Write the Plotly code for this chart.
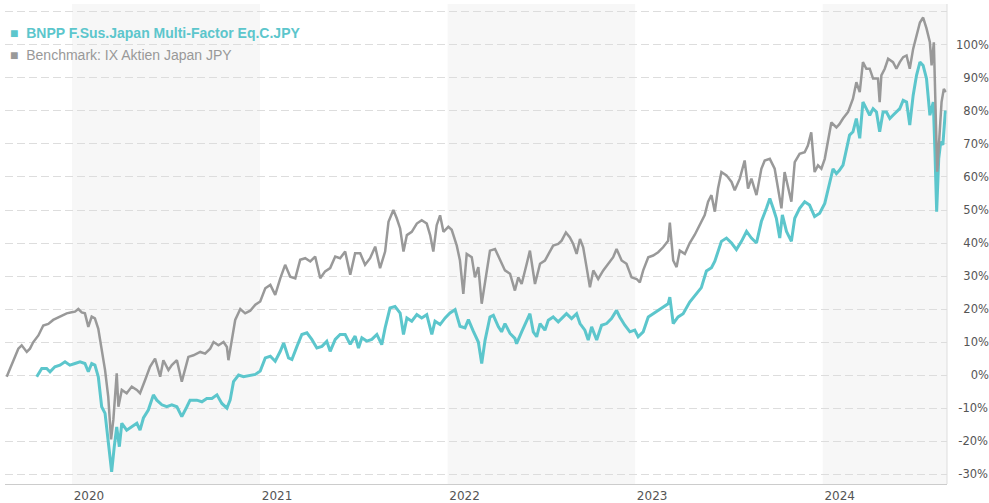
import datetime as dt
import plotly.graph_objects as go

# ---- data (decimal years, cumulative performance in %) ----
bench_t = [2019.652, 2019.688, 2019.714, 2019.732, 2019.759, 2019.776, 2019.794, 2019.821, 2019.847, 2019.874,
           2019.900, 2019.936, 2019.972, 2019.998, 2020.016, 2020.034, 2020.052, 2020.069, 2020.087, 2020.105,
           2020.122, 2020.140, 2020.158, 2020.176, 2020.193, 2020.208, 2020.220, 2020.238, 2020.247, 2020.265,
           2020.291, 2020.318, 2020.345, 2020.362, 2020.389, 2020.415, 2020.442, 2020.469, 2020.486, 2020.513,
           2020.531, 2020.558, 2020.584, 2020.602, 2020.619, 2020.646, 2020.682, 2020.708, 2020.735, 2020.753,
           2020.779, 2020.806, 2020.824, 2020.832, 2020.851, 2020.868, 2020.895, 2020.921, 2020.948, 2020.975,
           2021.001, 2021.028, 2021.055, 2021.081, 2021.108, 2021.134, 2021.161, 2021.188, 2021.214, 2021.241,
           2021.268, 2021.294, 2021.321, 2021.347, 2021.374, 2021.401, 2021.427, 2021.454, 2021.481, 2021.507,
           2021.534, 2021.560, 2021.587, 2021.614, 2021.640, 2021.667, 2021.685, 2021.711, 2021.729, 2021.747,
           2021.765, 2021.783, 2021.809, 2021.836, 2021.862, 2021.889, 2021.907, 2021.924, 2021.942, 2021.960,
           2021.978, 2022.004, 2022.022, 2022.049, 2022.066, 2022.084, 2022.102, 2022.129, 2022.146, 2022.164,
           2022.182, 2022.200, 2022.226, 2022.253, 2022.280, 2022.306, 2022.333, 2022.359, 2022.377, 2022.395,
           2022.422, 2022.439, 2022.466, 2022.493, 2022.519, 2022.546, 2022.563, 2022.590, 2022.608, 2022.631,
           2022.652, 2022.670, 2022.688, 2022.706, 2022.723, 2022.741, 2022.759, 2022.777, 2022.803, 2022.830,
           2022.856, 2022.883, 2022.901, 2022.928, 2022.954, 2022.981, 2023.008, 2023.025, 2023.043, 2023.070,
           2023.096, 2023.123, 2023.149, 2023.176, 2023.185, 2023.203, 2023.221, 2023.238, 2023.265, 2023.291,
           2023.318, 2023.345, 2023.371, 2023.389, 2023.407, 2023.425, 2023.442, 2023.460, 2023.487, 2023.514,
           2023.531, 2023.558, 2023.584, 2023.602, 2023.620, 2023.647, 2023.673, 2023.691, 2023.718, 2023.744,
           2023.762, 2023.780, 2023.797, 2023.815, 2023.833, 2023.851, 2023.877, 2023.904, 2023.921, 2023.939,
           2023.957, 2023.975, 2023.993, 2024.011, 2024.028, 2024.046, 2024.073, 2024.089, 2024.108, 2024.135,
           2024.161, 2024.179, 2024.197, 2024.214, 2024.232, 2024.250, 2024.268, 2024.294, 2024.303, 2024.312,
           2024.330, 2024.348, 2024.374, 2024.392, 2024.410, 2024.428, 2024.446, 2024.463, 2024.481, 2024.499,
           2024.517, 2024.534, 2024.552, 2024.570, 2024.579, 2024.591, 2024.602, 2024.609, 2024.619, 2024.632,
           2024.644, 2024.655]
bench_v = [-0.5, 4.5, 8, 9, 7, 8, 10, 12, 15, 15.5,
           16.7, 17.7, 18.7, 19, 19.2, 20, 19, 18.7, 14.6, 17.7,
           17.2, 14, 7.6, 1.5, -6.6, -19.5, -13.6, 0.5, -9.6, -4.5,
           -5.5, -3.5, -4.5, -5.5, -1.5, 2.5, 5, -0.5, 4.5, 1.5,
           3, 4.5, -2, 1.5, 5.5, 6, 7, 6.5, 8, 10,
           9, 10, 8.5, 4.5, 11.6, 16.7, 20, 18.7, 19.5, 21.3,
           22.3, 26.3, 27.3, 24.3, 29.3, 33.4, 29.8, 29.3, 34.9, 35.4,
           34.4, 35.9, 29.3, 31.4, 32.4, 35.9, 35.4, 37.4, 30.4, 36.9,
           36.9, 33.4, 35.4, 38.9, 32.4, 37.4, 46.4, 50, 47.5, 44.4,
           37.4, 42.4, 43.4, 45.9, 46.9, 45.9, 42.4, 37.4, 45.4, 48.4,
           43.4, 44.9, 44, 39.2, 34.7, 24.6, 36.7, 35.7, 29.6, 32.7,
           21.6, 28.6, 37.7, 38.2, 34.7, 31.7, 30.7, 25.6, 29.6, 27.6,
           33.7, 37.7, 27.6, 33.7, 34.7, 37.7, 39.2, 39.7, 40.7, 43.2,
           41.7, 39.7, 36.7, 41.2, 38.7, 32.7, 26.6, 31.7, 29.1, 31.7,
           33.7, 35.7, 38.2, 34.7, 33.7, 29.6, 29.1, 28.1, 31.7, 35.7,
           36.2, 37.2, 38.7, 40.7, 46.2, 34.7, 32.7, 37.7, 36.7, 40,
           42.5, 45.5, 48.5, 52.5, 54.5, 49.5, 56.5, 61.5, 60.5, 58.5,
           56, 59.5, 65, 56.5, 59.5, 54.5, 62.5, 65, 65.5, 62.5,
           56, 50.5, 61.5, 56.5, 52.5, 64.5, 67, 67.5, 69.5, 73.5,
           61.5, 63.5, 62.5, 65.5, 70.5, 76.5, 75, 76, 77.7, 79.7,
           83.7, 88.7, 85.7, 94.8, 92.8, 92.8, 89.8, 89.8, 82.7, 90.8,
           92.8, 95.8, 94.8, 92.8, 94.8, 96.3, 96.8, 92.8, 98.8, 102.8,
           106.8, 108.3, 105, 100.8, 93.8, 100.8, 72.7, 61.6, 70.7, 82.7,
           86.7, 85.7]

fund_t = [2019.812, 2019.839, 2019.865, 2019.883, 2019.909, 2019.936, 2019.963, 2019.989, 2020.016, 2020.043,
          2020.069, 2020.087, 2020.105, 2020.122, 2020.140, 2020.158, 2020.176, 2020.193, 2020.211, 2020.225,
          2020.238, 2020.252, 2020.265, 2020.291, 2020.318, 2020.345, 2020.362, 2020.380, 2020.406, 2020.433,
          2020.451, 2020.478, 2020.504, 2020.531, 2020.558, 2020.584, 2020.611, 2020.628, 2020.664, 2020.691,
          2020.717, 2020.744, 2020.771, 2020.797, 2020.824, 2020.841, 2020.859, 2020.886, 2020.912, 2020.948,
          2020.975, 2021.001, 2021.028, 2021.055, 2021.081, 2021.108, 2021.126, 2021.152, 2021.170, 2021.197,
          2021.223, 2021.250, 2021.276, 2021.303, 2021.330, 2021.356, 2021.374, 2021.401, 2021.427, 2021.454,
          2021.481, 2021.507, 2021.525, 2021.543, 2021.569, 2021.596, 2021.623, 2021.649, 2021.667, 2021.693,
          2021.720, 2021.747, 2021.765, 2021.783, 2021.809, 2021.836, 2021.862, 2021.889, 2021.916, 2021.933,
          2021.960, 2021.987, 2022.013, 2022.040, 2022.066, 2022.093, 2022.111, 2022.137, 2022.164, 2022.182,
          2022.200, 2022.226, 2022.244, 2022.271, 2022.288, 2022.306, 2022.333, 2022.359, 2022.368, 2022.395,
          2022.422, 2022.439, 2022.457, 2022.475, 2022.493, 2022.519, 2022.537, 2022.563, 2022.590, 2022.608,
          2022.634, 2022.661, 2022.688, 2022.706, 2022.732, 2022.750, 2022.768, 2022.795, 2022.821, 2022.848,
          2022.874, 2022.901, 2022.918, 2022.945, 2022.972, 2022.998, 2023.016, 2023.043, 2023.070, 2023.096,
          2023.123, 2023.149, 2023.176, 2023.185, 2023.203, 2023.229, 2023.256, 2023.291, 2023.327, 2023.353,
          2023.380, 2023.407, 2023.425, 2023.442, 2023.460, 2023.487, 2023.514, 2023.540, 2023.567, 2023.594,
          2023.620, 2023.647, 2023.673, 2023.700, 2023.718, 2023.736, 2023.753, 2023.771, 2023.785, 2023.807,
          2023.833, 2023.851, 2023.877, 2023.904, 2023.930, 2023.957, 2023.984, 2024.011, 2024.037, 2024.055,
          2024.073, 2024.089, 2024.108, 2024.126, 2024.143, 2024.161, 2024.179, 2024.197, 2024.214, 2024.232,
          2024.250, 2024.268, 2024.286, 2024.303, 2024.321, 2024.339, 2024.357, 2024.374, 2024.392, 2024.410,
          2024.428, 2024.446, 2024.463, 2024.481, 2024.499, 2024.517, 2024.534, 2024.552, 2024.570, 2024.588,
          2024.597, 2024.606, 2024.617, 2024.628, 2024.639, 2024.652, 2024.661]
fund_v = [-0.5, 2, 2, 1, 2.5, 3, 4, 3, 3.5, 4,
          3.5, 1, 3.5, 3, -0.5, -9.6, -11.6, -20.7, -29.3, -21.7,
          -15.7, -21.7, -14.6, -16.7, -15.7, -14.6, -16.7, -13, -10.6, -6,
          -7.6, -9, -9.6, -9, -9.6, -12.6, -9.6, -7.6, -7.6, -8.1,
          -7.1, -7.1, -6, -8.6, -10, -7.6, -2, 0, -0.5, 0,
          0.2, 1.2, 5.2, 5.7, 4.2, 7.2, 9.7, 5.2, 4.7, 8.7,
          12.3, 12.8, 10.8, 8.2, 8.7, 10.2, 7.2, 10.8, 12.3, 12.3,
          9.3, 11.8, 8.2, 11.3, 10.3, 10.8, 12.3, 9.2, 14.3, 20.3,
          20.8, 18.8, 12.3, 17.3, 16.3, 18.3, 17.3, 18.3, 12.3, 16.3,
          15.3, 17.3, 18.8, 19.8, 14.8, 14.3, 16.8, 13.3, 10, 3.5,
          10.6, 17.6, 18.1, 14.6, 13.1, 15.6, 12.6, 11.1, 9.5, 13.1,
          16.6, 18.6, 13.1, 11.6, 15.6, 13.6, 16.6, 17.6, 16.1, 17.1,
          18.6, 17.1, 18.6, 15.6, 13.6, 10.6, 14.6, 10.6, 15.1, 15.6,
          17.1, 19.6, 17.6, 15.1, 13.1, 13.6, 11.6, 13.1, 17.6, 18.6,
          19.6, 20.6, 21.6, 23.6, 15.6, 17.6, 18.6, 22.1, 24.5, 26.5,
          31.5, 32.5, 34.5, 37.5, 40.5, 41.5, 40, 38, 40.5, 43.5,
          41.5, 40, 46.5, 50.5, 53.5, 50.5, 47.5, 41.5, 48.5, 43.5,
          40.5, 47.5, 50.5, 52.5, 51.5, 48, 49, 52, 58.5, 62.5,
          61, 62, 63.6, 68.6, 72.7, 73.7, 77.7, 71.7, 82.7, 80.7,
          78.7, 80.7, 79.7, 73.7, 79.7, 79.7, 77.7, 78.7, 79.7, 80.7,
          83.2, 82.7, 75.7, 84.7, 90.8, 94.8, 93.8, 89.8, 78.7, 82.7,
          67.6, 49.5, 65.6, 70.7, 69.7, 79.7, 79.7]

years = [2020, 2021, 2022, 2023, 2024]
shaded_years = [2020, 2022, 2024]
y_ticks = [-30, -20, -10, 0, 10, 20, 30, 40, 50, 60, 70, 80, 90, 100, 110]
y_labels = ["-30%", "-20%", "-10%", "0%", "10%", "20%", "30%", "40%", "50%",
            "60%", "70%", "80%", "90%", "100%", ""]

fund_name = "BNPP F.Sus.Japan Multi-Factor Eq.C.JPY"
bench_name = "Benchmark: IX Aktien Japan JPY"

TEAL = "#5cc6cc"
GRAY = "#999999"


def to_date(d):
    y = int(d)
    start = dt.datetime(y, 1, 1)
    end = dt.datetime(y + 1, 1, 1)
    return start + (end - start) * (d - y)


def pad_label(s):
    # right-align labels on a right-hand axis using figure / thin spaces
    if not s:
        return s
    if s.startswith("-"):
        return "\u2009" + s
    digits = sum(c.isdigit() for c in s)
    return "\u2007" * max(0, 3 - digits) + s


def legend_label(name, color, bold):
    txt = f"<b>{name}</b>" if bold else name
    return (f"<span style='color:{color}'>\u25a0\u00a0\u00a0</span>"
            f"<span style='color:{color}'>{txt}</span>")


fund_x = [to_date(t) for t in fund_t]
bench_x = [to_date(t) for t in bench_t]
x_start = to_date(2019.643)
x_end = to_date(2024.661)

fig = go.Figure()
fig.add_trace(go.Scatter(x=fund_x, y=fund_v, mode="lines", line=dict(color=TEAL, width=3),
                         showlegend=False, name=fund_name))
fig.add_trace(go.Scatter(x=bench_x, y=bench_v, mode="lines", line=dict(color=GRAY, width=2.5),
                         showlegend=False, name=bench_name))
# legend entries (square swatch drawn as part of the label)
fig.add_trace(go.Scatter(x=[None], y=[None], mode="markers",
                         marker=dict(symbol="square", size=1, color=TEAL, opacity=0),
                         name=legend_label(fund_name, TEAL, True), legendgroup="a"))
fig.add_trace(go.Scatter(x=[None], y=[None], mode="markers",
                         marker=dict(symbol="square", size=1, color=GRAY, opacity=0),
                         name=legend_label(bench_name, GRAY, False), legendgroup="b"))

shapes = []
for yr in shaded_years:
    x0 = dt.datetime(yr, 1, 1)
    x1 = min(dt.datetime(yr + 1, 1, 1), x_end)
    shapes.append(dict(type="rect", xref="x", yref="y domain", x0=x0, x1=x1, y0=0, y1=1,
                       fillcolor="#f7f7f7", line=dict(width=0), layer="below"))
shapes.append(dict(type="line", xref="x domain", yref="y domain", x0=1, x1=1, y0=0, y1=1,
                   line=dict(color="#dddddd", width=1)))

W, H = 989, 503
ML, MR, MT, MB = 5, 42, 4, 19
PW, PH = W - ML - MR, H - MT - MB
fig.update_layout(
    width=W, height=H, autosize=False,
    margin=dict(l=ML, r=MR, t=MT, b=MB, pad=0, autoexpand=False),
    paper_bgcolor="white", plot_bgcolor="white",
    shapes=shapes,
    showlegend=True,
    legend=dict(x=(-30 - ML) / PW, y=1 - 13 / PH,
                xanchor="left", yanchor="top",
                bgcolor="rgba(0,0,0,0)", font=dict(family="Liberation Sans, Arial", size=14),
                tracegroupgap=1, itemclick=False, itemdoubleclick=False),
    xaxis=dict(
        type="date", range=[x_start, x_end], automargin=False,
        tickvals=[dt.datetime(y, 1, 1) for y in years],
        ticktext=[str(y) for y in years],
        ticks="", showgrid=False, zeroline=False,
        showline=True, linecolor="#cccccc", linewidth=1,
        tickfont=dict(family="DejaVu Sans", size=12, color="#555555"),
        ticklabelshift=17, ticklabelstandoff=1,
    ),
    yaxis=dict(
        range=[-33, 112.4], side="right", automargin=False,
        tickvals=y_ticks, ticktext=[pad_label(s) for s in y_labels],
        ticks="", showline=False, zeroline=False,
        showgrid=True, gridcolor="#dddddd", gridwidth=1, griddash="8px,4px",
        tickfont=dict(family="DejaVu Sans", size=11.5, color="#555555"),
        ticklabelstandoff=8,
    ),
)

fig.write_html("out.html", config={"displayModeBar": False},
               post_script="document.body.style.margin='0px';")
